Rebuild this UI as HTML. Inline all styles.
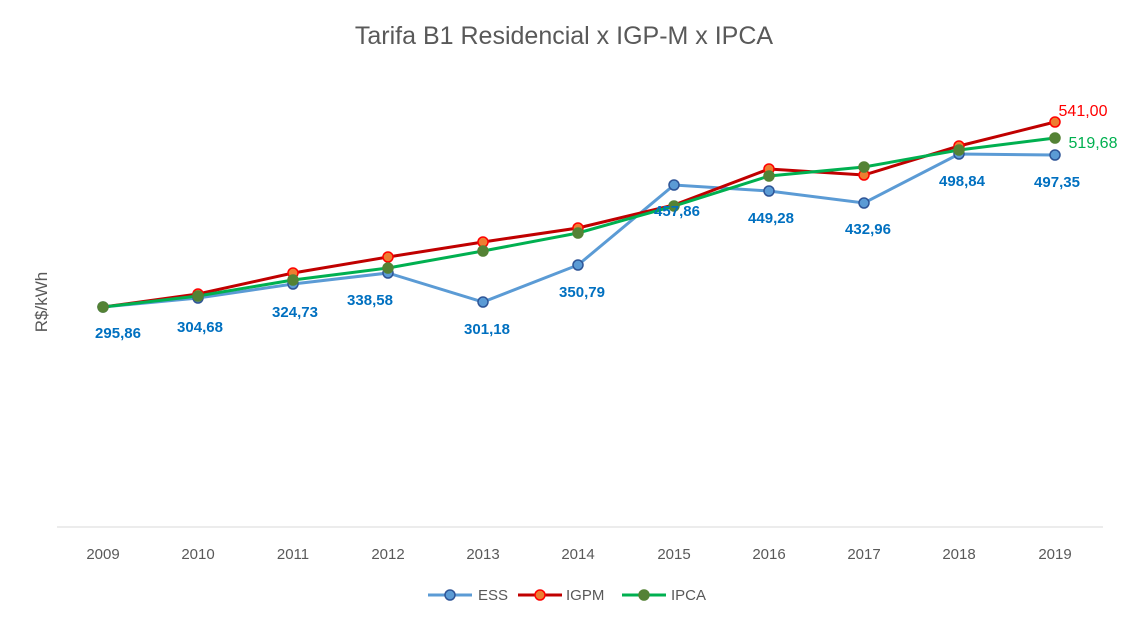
<!DOCTYPE html>
<html><head><meta charset="utf-8"><style>
body{margin:0;background:#fff}
svg{display:block;font-family:"Liberation Sans",sans-serif}
</style></head><body>
<svg width="1126" height="626" viewBox="0 0 1126 626">
<rect width="1126" height="626" fill="#fff"/>
<text x="564" y="44" text-anchor="middle" font-size="25" fill="#595959">Tarifa B1 Residencial x IGP-M x IPCA</text>
<text transform="translate(47,302) rotate(-90)" text-anchor="middle" font-size="17" fill="#595959">R$/kWh</text>
<line x1="57" y1="527" x2="1103" y2="527" stroke="#d9d9d9" stroke-width="1"/>
<g font-size="15" fill="#595959" text-anchor="middle">
<text x="103" y="559">2009</text><text x="198" y="559">2010</text><text x="293" y="559">2011</text><text x="388" y="559">2012</text><text x="483" y="559">2013</text><text x="578" y="559">2014</text><text x="674" y="559">2015</text><text x="769" y="559">2016</text><text x="864" y="559">2017</text><text x="959" y="559">2018</text><text x="1055" y="559">2019</text>
</g>
<polyline fill="none" stroke="#5b9bd5" stroke-width="3" points="103,307 198,298 293,284 388,273 483,302 578,265 674,185 769,191 864,203 959,154 1055,155"/>
<polyline fill="none" stroke="#c00000" stroke-width="3" points="103,307 198,294 293,273 388,257 483,242 578,228 674,205 769,169 864,175 959,146 1055,122"/>
<polyline fill="none" stroke="#00b050" stroke-width="3" points="103,307 198,296 293,280 388,268 483,251 578,233 674,206 769,176 864,167 959,150 1055,138"/>
<g fill="#5b9bd5" stroke="#2f5597" stroke-width="1.5">
<circle cx="103" cy="307" r="5"/><circle cx="198" cy="298" r="5"/><circle cx="293" cy="284" r="5"/><circle cx="388" cy="273" r="5"/><circle cx="483" cy="302" r="5"/><circle cx="578" cy="265" r="5"/><circle cx="674" cy="185" r="5"/><circle cx="769" cy="191" r="5"/><circle cx="864" cy="203" r="5"/><circle cx="959" cy="154" r="5"/><circle cx="1055" cy="155" r="5"/>
</g>
<g fill="#ed7d31" stroke="#ff0000" stroke-width="1.5">
<circle cx="198" cy="294" r="5"/><circle cx="293" cy="273" r="5"/><circle cx="388" cy="257" r="5"/><circle cx="483" cy="242" r="5"/><circle cx="578" cy="228" r="5"/><circle cx="769" cy="169" r="5"/><circle cx="864" cy="175" r="5"/><circle cx="959" cy="146" r="5"/><circle cx="1055" cy="122" r="5"/>
</g>
<g fill="#548235" stroke="#548235" stroke-width="1.5">
<circle cx="103" cy="307" r="5"/><circle cx="198" cy="296" r="5"/><circle cx="293" cy="280" r="5"/><circle cx="388" cy="268" r="5"/><circle cx="483" cy="251" r="5"/><circle cx="578" cy="233" r="5"/><circle cx="674" cy="206" r="5"/><circle cx="769" cy="176" r="5"/><circle cx="864" cy="167" r="5"/><circle cx="959" cy="150" r="5"/><circle cx="1055" cy="138" r="5"/>
</g>
<g font-size="15" font-weight="bold" fill="#0070c0" text-anchor="middle">
<text x="118" y="338">295,86</text><text x="200" y="332">304,68</text><text x="295" y="317">324,73</text><text x="370" y="305">338,58</text><text x="487" y="334">301,18</text><text x="582" y="297">350,79</text><text x="677" y="216">457,86</text><text x="771" y="223">449,28</text><text x="868" y="234">432,96</text><text x="962" y="186">498,84</text><text x="1057" y="187">497,35</text>
</g>
<text x="1083" y="116" text-anchor="middle" font-size="16" fill="#ff0000">541,00</text>
<text x="1093" y="148" text-anchor="middle" font-size="16" fill="#00b050">519,68</text>
<g font-size="15" fill="#595959">
<line x1="428" y1="595" x2="472" y2="595" stroke="#5b9bd5" stroke-width="3"/><circle cx="450" cy="595" r="5" fill="#5b9bd5" stroke="#2f5597" stroke-width="1.5"/><text x="478" y="600">ESS</text>
<line x1="518" y1="595" x2="562" y2="595" stroke="#c00000" stroke-width="3"/><circle cx="540" cy="595" r="5" fill="#ed7d31" stroke="#ff0000" stroke-width="1.5"/><text x="566" y="600">IGPM</text>
<line x1="622" y1="595" x2="666" y2="595" stroke="#00b050" stroke-width="3"/><circle cx="644" cy="595" r="5" fill="#548235" stroke="#548235" stroke-width="1.5"/><text x="671" y="600">IPCA</text>
</g>
</svg>
</body></html>
